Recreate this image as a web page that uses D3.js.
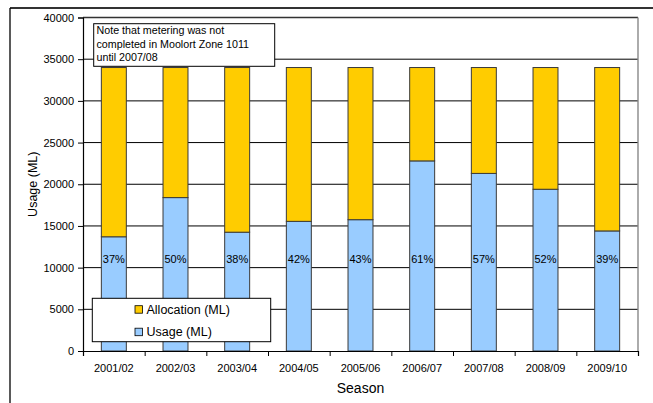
<!DOCTYPE html>
<html>
<head>
<meta charset="utf-8">
<script src="https://cdn.jsdelivr.net/npm/d3@7"></script>
<style>
  body { margin: 0; background: #fff; }
  svg { display: block; font-family: "Liberation Sans", Arial, sans-serif; }
</style>
</head>
<body>
<div id="chart"></div>
<script>
// data
var seasons = ["2001/02", "2002/03", "2003/04", "2004/05", "2005/06", "2006/07", "2007/08", "2008/09", "2009/10"];
var usage = [13700, 18400, 14250, 15550, 15750, 22800, 21300, 19400, 14400];
var allocation = [20300, 15600, 19750, 18450, 18250, 11200, 12700, 14600, 19600];
var percentLabels = ["37%", "50%", "38%", "42%", "43%", "61%", "57%", "52%", "39%"];
var yTicks = [0, 5000, 10000, 15000, 20000, 25000, 30000, 35000, 40000];
var noteLines = ["Note that metering was not", "completed in Moolort Zone 1011", "until 2007/08"];
var legendItems = ["Allocation (ML)", "Usage (ML)"];

var w = 653;
var h = 403;

// plot area (plotTop, since "top" is taken by window.top)
var plotLeft = 83, plotRight = 638, plotTop = 17.5, plotBottom = 351;

var svg = d3.select("#chart")
    .append("svg")
    .attr("width", w)
    .attr("height", h);

svg.append("rect").attr("width", w).attr("height", h).attr("fill", "#fff");

// outer frame (cut off at right and bottom)
svg.append("line").attr("x1", 10).attr("x2", w + 5).attr("y1", 8).attr("y2", 8)
    .attr("stroke", "#333").attr("stroke-width", 2);
svg.append("line").attr("x1", 10).attr("x2", 10).attr("y1", 8).attr("y2", h + 5)
    .attr("stroke", "#000").attr("stroke-width", 1.3);

var x = d3.scaleBand().domain(seasons).range([plotLeft, plotRight]).paddingInner(0.595).paddingOuter(0.2975);
var xEdges = d3.scaleLinear().domain([0, seasons.length]).range([plotLeft, plotRight]);
var y = d3.scaleLinear().domain([0, 40000]).range([plotBottom, plotTop]);

// gridlines
svg.append("g")
    .selectAll("line")
    .data(yTicks.filter(function (d) { return d > 0 && d < 40000; }))
    .enter()
    .append("line")
    .attr("x1", plotLeft).attr("x2", plotRight)
    .attr("y1", function (d) { return y(d); })
    .attr("y2", function (d) { return y(d); })
    .attr("stroke", "#000").attr("stroke-width", 1);

// plot border: top dark, right grey
svg.append("line").attr("x1", plotLeft).attr("x2", plotRight).attr("y1", plotTop).attr("y2", plotTop)
    .attr("stroke", "#333").attr("stroke-width", 1.4);
svg.append("line").attr("x1", plotRight).attr("x2", plotRight).attr("y1", plotTop).attr("y2", plotBottom)
    .attr("stroke", "#888").attr("stroke-width", 1.4);

// stacked bars
var stackData = seasons.map(function (s, i) {
    return { season: s, usage: usage[i], allocation: allocation[i] };
});
var series = d3.stack().keys(["usage", "allocation"])(stackData);
var colors = { usage: "#99ccff", allocation: "#ffcc00" };

svg.append("g")
    .selectAll("g")
    .data(series)
    .enter()
    .append("g")
    .attr("fill", function (d) { return colors[d.key]; })
    .selectAll("rect")
    .data(function (d) { return d; })
    .enter()
    .append("rect")
    .attr("x", function (d) { return x(d.data.season); })
    .attr("y", function (d) { return y(d[1]); })
    .attr("width", x.bandwidth())
    .attr("height", function (d) { return y(d[0]) - y(d[1]); })
    .attr("stroke", "#3a3a3a")
    .attr("stroke-width", 1);

// percent labels
svg.append("g")
    .selectAll("text")
    .data(percentLabels)
    .enter()
    .append("text")
    .attr("x", function (d, i) { return x(seasons[i]) + x.bandwidth() / 2; })
    .attr("y", y(11000))
    .attr("dy", "0.35em")
    .attr("text-anchor", "middle")
    .style("font-size", "11px")
    .attr("fill", "#000")
    .text(function (d) { return d; });

// y axis
var yAxis = svg.append("g")
    .attr("transform", "translate(" + plotLeft + ",0)")
    .call(d3.axisLeft(y).tickValues(yTicks).tickSize(5).tickPadding(4).tickFormat(d3.format("d")));
yAxis.select(".domain").attr("stroke", "#000").attr("stroke-width", 1.2);
yAxis.selectAll("line").attr("stroke", "#000");
yAxis.selectAll("text").style("font-size", "11px").attr("fill", "#000")
    .style("font-family", "'Liberation Sans', Arial, sans-serif");

// x axis: ticks between categories
var xTickAxis = svg.append("g")
    .attr("transform", "translate(0," + plotBottom + ")")
    .call(d3.axisBottom(xEdges).tickValues(d3.range(seasons.length + 1)).tickSize(5).tickFormat(""));
xTickAxis.select(".domain").attr("stroke", "#000").attr("stroke-width", 1.2);
xTickAxis.selectAll("line").attr("stroke", "#000");

var xAxis = svg.append("g")
    .attr("transform", "translate(0," + plotBottom + ")")
    .call(d3.axisBottom(x).tickSize(0).tickPadding(13));
xAxis.select(".domain").remove();
xAxis.selectAll("text").style("font-size", "11px").attr("fill", "#000")
    .style("font-family", "'Liberation Sans', Arial, sans-serif");

// axis titles
svg.append("text")
    .attr("x", (plotLeft + plotRight) / 2)
    .attr("y", 388)
    .attr("dy", "0.35em")
    .attr("text-anchor", "middle")
    .style("font-size", "14px")
    .text("Season");

svg.append("text")
    .attr("transform", "translate(33," + (plotTop + plotBottom) / 2 + ") rotate(-90)")
    .attr("dy", "0.35em")
    .attr("text-anchor", "middle")
    .style("font-size", "12.5px")
    .text("Usage (ML)");

// note box
svg.append("rect")
    .attr("x", 93.7).attr("y", 23.7).attr("width", 181).attr("height", 42.6)
    .attr("fill", "#fff").attr("stroke", "#000").attr("stroke-width", 1);
svg.append("g")
    .selectAll("text")
    .data(noteLines)
    .enter()
    .append("text")
    .attr("x", 96.5)
    .attr("y", function (d, i) { return 30.7 + i * 13.3; })
    .attr("dy", "0.35em")
    .style("font-size", "10.7px")
    .text(function (d) { return d; });

// legend
var legend = svg.append("g");
legend.append("rect")
    .attr("x", 92.3).attr("y", 298.3).attr("width", 178.4).attr("height", 43.4)
    .attr("fill", "#fff").attr("stroke", "#000").attr("stroke-width", 1);
var legendColors = [colors.allocation, colors.usage];
var items = legend.selectAll(".item")
    .data(legendItems)
    .enter()
    .append("g")
    .attr("transform", function (d, i) { return "translate(135," + (309.5 + i * 22.5) + ")"; });
items.append("rect")
    .attr("x", 0).attr("y", -3.8).attr("width", 7.5).attr("height", 7.5)
    .attr("fill", function (d, i) { return legendColors[i]; })
    .attr("stroke", "#000").attr("stroke-width", 0.8);
items.append("text")
    .attr("x", 11.5)
    .attr("dy", "0.35em")
    .style("font-size", "12.5px")
    .text(function (d) { return d; });
</script>
</body>
</html>
